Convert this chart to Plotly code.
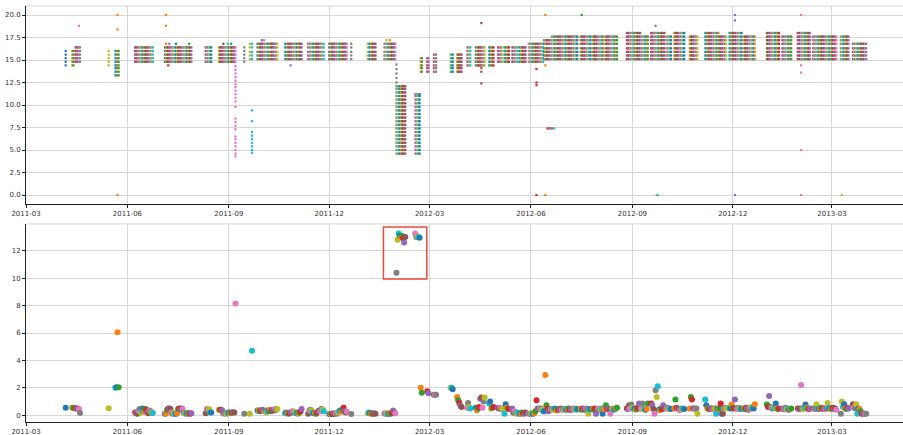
import pandas as pd
import plotly.graph_objects as go

# ---------------- data ----------------
TAB10 = ["#1f77b4", "#ff7f0e", "#2ca02c", "#d62728", "#9467bd",
         "#8c564b", "#e377c2", "#7f7f7f", "#bcbd22", "#17becf"]

# value levels recorded on a day (top panel)
level_sets = {
    "A": "14.4 14.8 15.2 15.6 16.0",
    "B": "14.8 15.2 15.6 16.0 16.4",
    "C": "15.1 15.5 15.9 16.4 16.8",
    "M": "13.3 13.7 14.1 14.4 14.8 15.2 15.6 16.0",
    "P": "4.3 4.6 5.0 5.4 5.8 6.2 6.5 7.3 7.7 8.1 8.5 9.8 10.4 10.8 11.2 11.6 12.0 12.3 12.7 13.1 13.5 13.9 14.3 14.8 15.2 15.6 16.0 16.4",
    "Q": "4.7 5.0 5.4 5.8 6.2 6.6 7.0 8.2 9.4 15.1 15.5 15.9 16.4 16.8",
    "LOW": "4.6 5.0 5.4 5.8 6.2 6.6 7.0 7.4 7.8 8.2 8.6 9.0 9.4 9.8 10.2 10.6 11.0 11.4 11.8 12.1",
    "LOW2": "4.6 5.0 5.4 5.8 6.2 6.6 7.0 7.4 7.8 8.2 8.6 9.0 9.4 9.8 10.2 10.6 11.0 11.2",
    "E": "13.7 14.1 14.4 14.8 15.2",
    "F": "13.7 14.1 14.4 14.8 15.2 15.6",
    "L2": "14.4 14.8 15.2 15.6 16.0 16.4",
    "L3": "14.8 15.2 15.6 16.0 16.4",
    "L4": "14.8 15.2 15.6 16.0 16.4 16.8",
    "L5": "15.1 15.5 15.9 16.3 16.8 17.2",
    "L6": "15.1 15.5 15.9 16.3 16.8 17.2 17.6",
    "L7": "15.1 15.5 15.9 16.3 16.8 17.2 17.6 18.0",
    "L9": "15.1 15.5 15.9 16.3 16.8",
}

# (first day, level set, daily value shown in the bottom panel - one per consecutive day)
blocks = [
    ("2011-04-06", "A", "0.55"),
    ("2011-04-12", "A", "0.55 0.55"),
    ("2011-04-15", "B", "0.5 0.5 0.5 0.45 0.17"),
    ("2011-05-15", "A", "0.52"),
    ("2011-05-21", "M", "2.0 2.05 6.05 2.05"),
    ("2011-06-08", "B", "0.2 0.15 0.12 0.35 0.45 0.2 0.3 0.5 0.25 0.45 0.4 0.2 0.15 0.35 0.3 0.2 0.17"),
    ("2011-07-05", "B", "0.12 0.12 0.4 0.5 0.5 0.45 0.2 0.12 0.15 0.12 0.12 0.15 0.45 0.5 0.4 0.5 0.45 0.2 0.15 0.12 0.15 0.12 0.15 0.12 0.15"),
    ("2011-08-11", "B", "0.15 0.45 0.4 0.45 0.2 0.2"),
    ("2011-08-23", "B", "0.4 0.4 0.4 0.35 0.15 0.12 0.15 0.12 0.15 0.2 0.15 0.2 0.2 0.22 0.2"),
    ("2011-09-07", "P", "8.15"),
    ("2011-09-15", "B", "0.12"),
    ("2011-09-20", "C", "0.12"),
    ("2011-09-22", "Q", "4.7"),
    ("2011-09-27", "C", "0.35 0.35 0.3 0.35 0.4 0.35 0.3 0.35 0.2 0.3 0.35 0.4 0.3 0.35 0.4 0.35 0.45 0.4 0.45"),
    ("2011-10-22", "C", "0.15 0.2 0.15 0.12 0.15 0.2 0.25 0.3 0.2 0.25 0.15 0.15 0.12 0.2 0.3 0.45"),
    ("2011-11-12", "C", "0.12 0.35 0.4 0.35 0.2 0.15 0.15 0.12 0.2 0.3 0.35 0.3 0.45 0.4 0.3"),
    ("2011-12-01", "C", "0.1 0.12 0.12 0.1 0.15 0.12 0.15 0.12 0.2 0.3 0.35 0.25 0.4 0.55 0.3 0.2 0.25"),
    ("2011-12-21", "C", "0.1"),
    ("2012-01-05", "C", "0.15 0.2 0.15 0.12 0.15 0.12 0.15 0.12"),
    ("2012-01-20", "C", "0.15 0.12 0.15 0.12 0.12 0.15 0.12 0.2 0.35 0.2 0.15"),
    ("2012-01-31", "LOW", "10.4 12.8 13.25 13.1 13.0 13.1 12.9 12.6 13.0"),
    ("2012-02-17", "LOW2", "13.25 13.0 13.05 13.0 12.95"),
    ("2012-02-22", "E", "2.0 1.65"),
    ("2012-02-28", "E", "1.75 1.6"),
    ("2012-03-05", "F", "1.5 1.5 1.5"),
    ("2012-03-20", "F", "2.0 2.0 1.9"),
    ("2012-03-26", "F", "1.34 1.1 0.9 0.7 0.6"),
    ("2012-04-04", "L2", "0.54 0.9 0.6 0.5"),
    ("2012-04-12", "L2", "0.54 0.37 0.5 0.6"),
    ("2012-04-16", "L2", "1.2 1.3 0.54 1.0 1.3"),
    ("2012-04-24", "L2", "0.85 1.0 0.5 0.54 0.6"),
    ("2012-05-02", "L3", "0.54 0.5 0.54 0.45 0.5"),
    ("2012-05-08", "L3", "0.12 0.8 0.54 0.5 0.45"),
    ("2012-05-15", "L3", "0.5 0.2 0.3 0.15 0.12 0.2"),
    ("2012-05-22", "L3", "0.12 0.12 0.2 0.15 0.12 0.2"),
    ("2012-05-30", "L4", "0.12 0.12 0.15 0.12 0.12 0.15 0.3 1.1 0.5 0.45 0.5 0.5 0.4 0.3"),
    ("2012-06-13", "L5", "0.3 2.93 0.73 0.5 0.3 0.4 0.45"),
    ("2012-06-20", "L6", "0.45 0.4 0.5 0.45 0.35 0.45 0.4 0.45 0.5 0.4 0.45 0.4"),
    ("2012-07-02", "L6", "0.45 0.4 0.45 0.5 0.4 0.45 0.4 0.45 0.5 0.45 0.4 0.45"),
    ("2012-07-16", "L6", "0.45 0.4 0.5 0.45 0.4 0.5 0.45 0.12 0.4 0.45"),
    ("2012-07-27", "L6", "0.45 0.4 0.5 0.12 0.45 0.5 0.4 0.45 0.5 0.12 0.45"),
    ("2012-08-08", "L6", "0.73 0.45 0.5 0.4 0.12 0.45 0.5 0.4 0.45 0.5 0.55"),
    ("2012-08-27", "L7", "0.5 0.45 0.73 0.5 0.78 0.55 0.45 0.5 0.4 0.45 0.55 0.85 0.5"),
    ("2012-09-09", "L6", "0.5 0.85 0.45 0.5 0.4 0.45 0.85"),
    ("2012-09-18", "L7", "0.85 0.73 0.45 0.12 1.83 1.34 2.12 0.4 0.37 0.5 0.45 0.73 0.5"),
    ("2012-10-02", "L6", "0.5 0.54 0.45 0.5 0.45"),
    ("2012-10-09", "L7", "0.5 1.15 0.54 0.5 0.45 0.37 0.5 0.45 0.5 0.45"),
    ("2012-10-23", "L6", "0.5 1.34 1.15 0.5 0.5 0.45 0.5 0.12"),
    ("2012-11-06", "L7", "1.15 0.73 0.5 0.5 0.45 0.5 0.5 0.45 0.5 0.5 0.12 0.5 0.45"),
    ("2012-11-19", "L6", "0.5 0.85 0.12 0.12 0.5 0.54 0.5"),
    ("2012-11-28", "L7", "0.54 0.5 0.78 0.54 0.5 1.15 0.5 0.45 0.55 0.5 0.45 0.5"),
    ("2012-12-11", "L6", "0.5 0.45 0.55 0.5 0.4 0.45 0.5 0.6 0.55 0.5 0.8"),
    ("2013-01-01", "L7", "0.78 0.6 1.4 0.6 0.55 0.5 0.6 0.55 0.85 0.5 0.45 0.5"),
    ("2013-01-15", "L6", "0.5 0.45 0.5 0.55 0.45 0.5 0.4 0.45 0.5"),
    ("2013-01-29", "L7", "0.5 0.45 0.5 2.2 0.5 0.45 0.55 0.78 0.54 0.5 0.45 0.5"),
    ("2013-02-12", "L6", "0.5 0.45 0.5 0.8 0.5 0.45 0.5 0.55 0.5 0.45 0.5 0.45 0.5"),
    ("2013-02-25", "L6", "0.9 0.54 0.5 0.45 0.5 0.54 0.45 0.5 0.4"),
    ("2013-03-09", "L6", "0.12 1.0 0.6 0.8 0.5 0.45 0.55 0.5"),
    ("2013-03-20", "L9", "0.8 0.54 0.5 0.8 0.12 0.5 0.45 0.3 0.12 0.15 0.12 0.12 0.12"),
]

# isolated readings (top panel)
extra_dates = ["2011-04-18", "2011-05-23", "2011-05-23", "2011-05-23",
               "2011-07-06", "2011-07-06", "2011-07-06", "2011-07-09", "2011-07-15", "2011-07-27", "2011-07-08",
               "2011-08-27", "2011-08-31", "2011-09-03", "2011-10-01", "2011-10-03", "2011-10-27",
               "2012-01-22", "2012-01-25",
               "2012-01-31", "2012-01-31", "2012-01-31", "2012-01-31", "2012-01-31",
               "2012-04-17", "2012-04-17", "2012-04-17", "2012-04-17",
               "2012-06-06", "2012-06-06", "2012-06-06", "2012-06-06",
               "2012-06-14", "2012-06-14", "2012-06-14",
               "2012-06-16", "2012-06-18", "2012-06-19", "2012-06-20", "2012-06-22",
               "2012-07-17", "2012-09-22", "2012-09-23", "2012-09-24",
               "2012-12-03", "2012-12-03", "2012-12-03",
               "2013-02-01", "2013-02-01", "2013-02-01", "2013-02-01", "2013-02-01",
               "2013-03-10"]
extra_vals = [18.8, 20.0, 18.4, 0.0,
              20.0, 18.8, 16.8, 16.8, 16.8, 16.8, 14.4,
              16.8, 16.8, 16.8, 17.2, 17.2, 14.4,
              17.2, 17.2,
              12.5, 13.0, 13.5, 14.0, 14.5,
              19.1, 12.4, 13.7, 14.1,
              14.0, 12.5, 12.2, 0.0,
              20.0, 0.0, 14.4,
              7.4, 7.4, 7.4, 7.4, 7.4,
              20.0, 18.8, 0.0, 0.0,
              20.0, 19.4, 0.0,
              20.0, 14.4, 13.6, 5.0, 0.0,
              0.0]

top_ticks = [0, 2.5, 5, 7.5, 10, 12.5, 15, 17.5, 20]
bottom_ticks = [0, 2, 4, 6, 8, 10, 12]

# ---------------- build per-day series ----------------
days, bottom_vals, day_colors = [], [], []
top_x, top_y, top_c = [], [], []
color_of = {}
idx = 0
for start, key, vals in blocks:
    vs = [float(v) for v in vals.split()]
    lv = [float(v) for v in level_sets[key].split()]
    for dt, v in zip(pd.date_range(start, periods=len(vs), freq="D"), vs):
        col = TAB10[idx % 10]
        idx += 1
        color_of[dt.strftime("%Y-%m-%d")] = col
        days.append(dt)
        bottom_vals.append(v)
        day_colors.append(col)
        for y in lv:
            top_x.append(dt)
            top_y.append(y)
            top_c.append(col)
for d, v in zip(extra_dates, extra_vals):
    top_x.append(pd.Timestamp(d))
    top_y.append(v)
    top_c.append(color_of.get(d, "#7f7f7f"))

# ---------------- figure ----------------
fig = go.Figure()
fig.add_trace(go.Scatter(x=top_x, y=top_y, mode="markers", xaxis="x", yaxis="y",
                         marker=dict(symbol="square", size=2.2, color=top_c, line=dict(width=0)),
                         hoverinfo="skip"))
fig.add_trace(go.Scatter(x=days, y=bottom_vals, mode="markers", xaxis="x2", yaxis="y2",
                         marker=dict(size=6, color=day_colors, line=dict(width=0)),
                         hoverinfo="skip"))

GRID = "#d6d6d6"
AX = "#222222"
xcommon = dict(type="date", range=["2011-03-01", "2013-05-04 10:00"], dtick="M3",
               tick0="2011-03-01", tickformat="%Y-%m", showgrid=True, gridcolor=GRID,
               gridwidth=1, showline=True, linecolor=AX, linewidth=1, ticks="outside",
               ticklen=3, tickcolor=AX, zeroline=False)
ycommon = dict(showgrid=True, gridcolor=GRID, gridwidth=1, showline=True, linecolor=AX,
               linewidth=1, ticks="outside", ticklen=3, tickcolor=AX, zeroline=False)

fig.update_layout(
    width=903, height=435,
    margin=dict(l=26, r=0, t=6, b=13),
    paper_bgcolor="white", plot_bgcolor="white",
    showlegend=False, hovermode=False,
    font=dict(family="DejaVu Sans", size=7, color="#333333"),
    xaxis=dict(xcommon, anchor="y"),
    xaxis2=dict(xcommon, anchor="y2"),
    yaxis=dict(ycommon, domain=[0.524, 1.0], range=[-1.0, 21.0],
               tickvals=top_ticks, ticktext=[f"{t:.1f}" for t in top_ticks]),
    yaxis2=dict(ycommon, domain=[0.0, 0.476], range=[-0.49, 13.95],
                tickvals=bottom_ticks, ticktext=[str(t) for t in bottom_ticks]),
    shapes=[
        dict(type="line", xref="x domain", yref="y domain", x0=0, x1=1, y0=1, y1=1,
             line=dict(color=GRID, width=1)),
        dict(type="line", xref="x2 domain", yref="y2 domain", x0=0, x1=1, y0=1, y1=1,
             line=dict(color=GRID, width=1)),
        dict(type="rect", xref="x2", yref="y2", x0="2012-01-19 05:00", x1="2012-02-27 12:00",
             y0=9.93, y1=13.73, line=dict(color="#e8493c", width=1.5), fillcolor="rgba(0,0,0,0)"),
    ],
)

fig.write_html("out.html")
